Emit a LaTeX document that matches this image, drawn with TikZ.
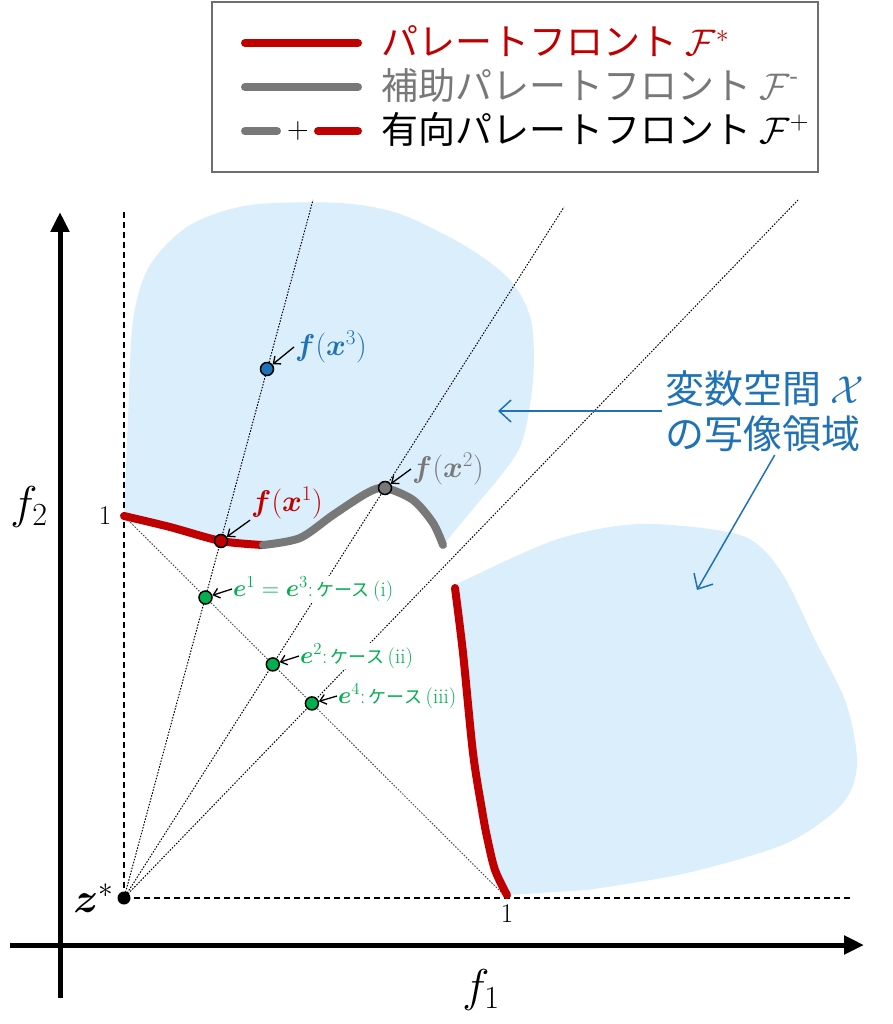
\documentclass[tikz,border=0pt]{standalone}
\usepackage{fix-cm}
\usepackage{amsmath, bm}
\usepackage{fontspec}
\usepackage{tikz}
\usetikzlibrary{arrows, arrows.meta, positioning}
\newfontfamily\jp{Noto Sans CJK JP}
\definecolor{paretored}{RGB}{192,0,0}
\definecolor{subgray}{RGB}{120,120,120}
\definecolor{mapblue}{RGB}{218,238,251}
\definecolor{noteblue}{RGB}{32,114,182}
\definecolor{refgreen}{RGB}{0,176,80}
\definecolor{framegray}{RGB}{110,110,110}
\newcommand{\mathbig}[1]{{\fontsize{24}{24}\selectfont$#1$}}
\newcommand{\casejp}{{\jp\fontsize{18}{22}\selectfont ケース}}
\tikzstyle{region}=[fill=mapblue]
\tikzstyle{front}=[line width=8pt, line cap=round]
\tikzstyle{guide}=[line width=2pt, dash pattern=on 6pt off 4pt]
\tikzstyle{ray}=[line width=1pt, dash pattern=on 1.5pt off 1.5pt]
\tikzstyle{axis}=[line width=5pt, -{Triangle[length=20pt,width=18pt]}]
\tikzstyle{pt}=[circle, draw, line width=1.5pt, minimum size=13pt, inner sep=0pt]
\tikzstyle{arr}=[line width=1.3pt, -{Straight Barb[length=6pt,width=10pt]}]
\tikzstyle{note}=[draw=noteblue, line width=1.5pt, -{Straight Barb[length=12pt,width=22pt]}]
\tikzstyle{elab}=[anchor=west, fill=white, inner sep=1pt, text=refgreen, font=\fontsize{21}{24}\selectfont]
\tikzstyle{flab}=[anchor=west, inner sep=1pt, font=\fontsize{30}{32}\selectfont]
\tikzstyle{legtext}=[anchor=west, inner sep=0pt, font=\jp\fontsize{37}{40}\selectfont]

\begin{document}
\begin{tikzpicture}[x=1pt, y=-1pt]
    \useasboundingbox (0,0) rectangle (892,1024);

    % mapped regions
    \fill[region] plot[smooth] coordinates {(124,516) (170,527) (221,541) (263,545) (300,538) (333,515) (367,493) (385,488) (413,500) (433,523) (443,545)}
        -- plot[smooth] coordinates {(483,497) (520,447) (533,380) (531,320) (510,280) (467,247) (400,214) (340,203) (250,205) (190,225) (150,265) (133,320) (128,420) (124,516)} -- cycle;
    \fill[region] plot[smooth] coordinates {(455,588) (463,653) (473,753) (482,810) (487,837) (495,870) (507,895)}
        -- plot[smooth] coordinates {(587,890) (687,873) (787,843) (843,803) (857,763) (846,703) (815,640) (780,570) (740,535) (640,524) (555,540) (455,585)} -- cycle;

    % axes
    \coordinate (ybot) at (60,998);
    \coordinate (ytop) at (60,212);
    \coordinate (xlft) at (10,945);
    \coordinate (xrgt) at (864,945);
    \draw[axis] (ybot) -- (ytop);
    \draw[axis] (xlft) -- (xrgt);
    \node[font=\fontsize{46}{46}\selectfont] (f1) at (481,990) {$f_1$};
    \node[font=\fontsize{46}{46}\selectfont] (f2) at (29,507) {$f_2$};

    % ideal point and guides
    \node[circle, fill, inner sep=0pt, minimum size=13pt] (zp) at (124,898) {};
    \node[left=0pt of zp, font=\fontsize{42}{42}\selectfont] (zlab) {$\bm{z}^*$};
    \coordinate (gtop) at (124,212);
    \coordinate (grgt) at (850,898);
    \draw[guide] (zp.center) -- (gtop);
    \draw[guide] (zp.center) -- (grgt);
    \coordinate (a2) at (124,516);
    \coordinate (a1) at (507,898);
    \node[font=\fontsize{27}{27}\selectfont] (one2) at (105,516) {1};
    \node[font=\fontsize{27}{27}\selectfont] (one1) at (507,914) {1};

    % rays
    \coordinate (r1) at (313,200);
    \coordinate (r2) at (564,207);
    \coordinate (r3) at (798,200);
    \foreach \r in {r1,r2,r3}
        \draw[ray] (zp.center) -- (\r);
    \draw[ray, black!70] (a2) -- (a1);

    % reference point labels
    \node[elab] (le1) at (232,589) {\mathbig{\bm{e}^1=\bm{e}^3}:\,\casejp{}\,(i)};
    \node[elab] (le2) at (299,656) {\mathbig{\bm{e}^2}:\,\casejp{}\,(ii)};
    \node[elab] (le4) at (337,696) {\mathbig{\bm{e}^4}:\,\casejp{}\,(iii)};

    % fronts
    \draw[front, paretored] plot[smooth] coordinates {(124,516) (170,527) (221,541) (263,545)};
    \draw[front, subgray] plot[smooth] coordinates {(263,545) (300,538) (333,515) (367,493) (385,488) (413,500) (433,523) (443,545)};
    \draw[front, paretored] plot[smooth] coordinates {(455,588) (463,653) (473,753) (482,810) (487,837) (495,870) (507,895)};

    % points
    \node[pt, fill=paretored] (fx1) at (221,541) {};
    \node[pt, fill=subgray] (fx2) at (385,488) {};
    \node[pt, fill=noteblue] (fx3) at (267,369) {};
    \node[pt, fill=refgreen] (e1) at (205.5,597.5) {};
    \node[pt, fill=refgreen] (e2) at (272.8,664.4) {};
    \node[pt, fill=refgreen] (e4) at (311.9,703.4) {};

    \node[flab, text=paretored] (lfx1) at (250,503) {$\bm{f}(\bm{x}^1)$};
    \node[flab, text=subgray] (lfx2) at (411,469) {$\bm{f}(\bm{x}^2)$};
    \node[flab, text=noteblue] (lfx3) at (294,347) {$\bm{f}(\bm{x}^3)$};

    \draw[arr] (lfx1.south west) -- (fx1);
    \draw[arr] (lfx2.west) -- (fx2);
    \draw[arr] (lfx3.west) -- (fx3);
    \draw[arr] (le1.west) -- (e1);
    \draw[arr] (le2.west) -- (e2);
    \draw[arr] (le4.west) -- (e4);

    % note on the mapped regions
    \node[font=\jp\fontsize{39}{45}\selectfont, text=noteblue, align=left, anchor=west] (maplab) at (662,411) {変数空間 $\mathcal{X}$\\の写像領域};
    \coordinate (tipA) at (498,411);
    \coordinate (tipB) at (697,590);
    \draw[note] (maplab.west) -- (tipA);
    \draw[note] ([xshift=10pt]maplab.south) -- (tipB);

    % legend
    \node[draw=framegray, line width=1.5pt, minimum width=606pt, minimum height=170pt] (legend) at (515,87) {};
    \draw[front, paretored] (245,43) -- (358,43);
    \draw[front, subgray] (245,87) -- (358,87);
    \draw[front, subgray] (245,131) -- (277,131);
    \node[font=\fontsize{30}{30}\selectfont] (plus) at (298,131) {+};
    \draw[front, paretored] (318,131) -- (358,131);
    \node[legtext, text=paretored] (leg1) at (381,41) {パレートフロント $\mathcal{F}^*$};
    \node[legtext, text=subgray] (leg2) at (381,85) {補助パレートフロント $\mathcal{F}^{\text{-}}$};
    \node[legtext] (leg3) at (381,129) {有向パレートフロント $\mathcal{F}^+$};
\end{tikzpicture}
\end{document}
